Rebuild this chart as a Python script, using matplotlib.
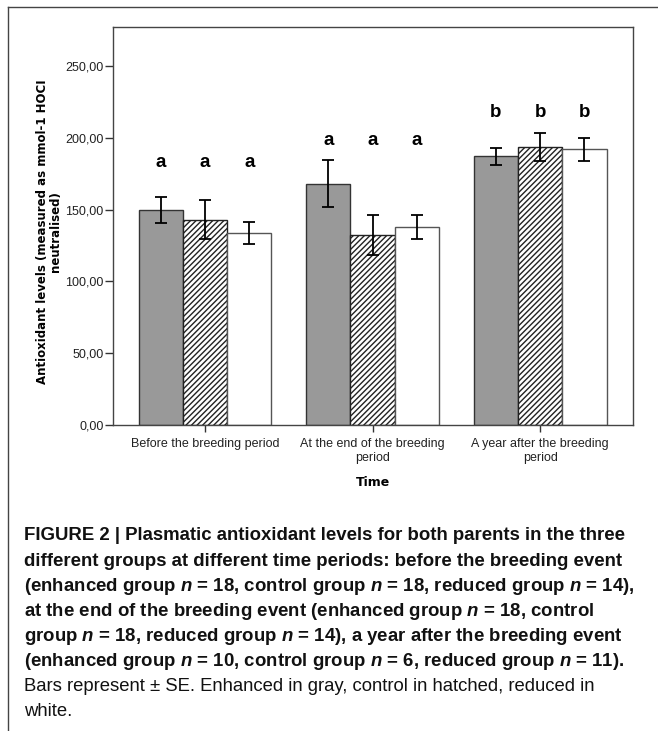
import matplotlib
matplotlib.use("Agg")
import matplotlib.pyplot as plt
import numpy as np
from matplotlib.lines import Line2D

# data
periods = ['Before the breeding period', 'At the end of the breeding\nperiod',
           'A year after the breeding\nperiod']
enhanced = [149.8, 168.0, 187.2]
enhanced_se = [8.8, 16.4, 5.8]
control = [143.1, 132.2, 193.4]
control_se = [13.4, 14.0, 9.8]
reduced = [133.8, 138.0, 192.0]
reduced_se = [7.6, 8.2, 8.2]
letters = ['a', 'a', 'b']
letter_y = [182.6, 198.0, 217.9]
yticks = [0, 50, 100, 150, 200, 250]

plt.rcParams['mathtext.fontset'] = 'custom'
plt.rcParams['mathtext.it'] = 'Liberation Sans:italic:bold'
plt.rcParams['mathtext.rm'] = 'Liberation Sans:bold'
plt.rcParams['hatch.linewidth'] = 1.0

fig = plt.figure(figsize=(6.58, 7.31), dpi=100)
ax = fig.add_axes([0.1713, 0.4186, 0.7907, 0.5449])

x = np.arange(len(periods))
w = 0.264
err = dict(ecolor='black', elinewidth=1.3, capsize=4, capthick=1.3)
ax.bar(x - w, enhanced, w, yerr=enhanced_se, color='#999999', edgecolor='#333333',
       linewidth=1, error_kw=err, zorder=2)
ax.bar(x, control, w, yerr=control_se, color='white', edgecolor='#222222', hatch='//////',
       linewidth=1, error_kw=err, zorder=2)
ax.bar(x + w, reduced, w, yerr=reduced_se, color='white', edgecolor='#555555',
       linewidth=1, error_kw=err, zorder=2)

for i, lab in enumerate(letters):
    for off in (-w, 0, w):
        ax.text(x[i] + off, letter_y[i], lab, ha='center', va='center',
                fontsize=13.5, fontweight='bold', family='Liberation Sans')

ax.set_xlim(-0.551, 2.554)
ax.set_ylim(0, 277.4)
ax.set_yticks(yticks)
ax.set_yticklabels(['%d,00' % v for v in yticks], family='Liberation Sans', fontsize=9,
                   color='#222222')
ax.set_xticks(x)
ax.set_xticklabels(periods, family='Liberation Sans', fontsize=9, color='#222222',
                   linespacing=1.15)
ax.tick_params(axis='y', length=6, width=1, pad=0.5, color='#333333')
ax.tick_params(axis='x', length=5, width=1, pad=4.5, color='#333333')
for s in ax.spines.values():
    s.set_color('#444444')
    s.set_linewidth(1)

ax.set_ylabel('Antioxidant levels (measured as mmol-1 HOCI\nneutralised)', fontsize=8.5,
              fontweight='bold', family='DejaVu Sans', linespacing=1.0)
ax.yaxis.set_label_coords(-0.098, 0.486)
ax.set_xlabel('Time', fontsize=9, fontweight='bold', family='DejaVu Sans')
ax.xaxis.set_label_coords(0.5, -0.128)

# outer frame of the figure panel
fig.add_artist(Line2D([8 / 658, 8 / 658], [0, 1 - 7 / 731], color='#444444', lw=1))
fig.add_artist(Line2D([8 / 658, 1], [1 - 7 / 731, 1 - 7 / 731], color='#444444', lw=1))

caption_bold = [
    'FIGURE 2 | Plasmatic antioxidant levels for both parents in the three',
    'different groups at different time periods: before the breeding event',
    '(enhanced group $n$ = 18, control group $n$ = 18, reduced group $n$ = 14),',
    'at the end of the breeding event (enhanced group $n$ = 18, control',
    'group $n$ = 18, reduced group $n$ = 14), a year after the breeding event',
    '(enhanced group $n$ = 10, control group $n$ = 6, reduced group $n$ = 11).',
]
caption_plain = [
    'Bars represent \u00b1 SE. Enhanced in gray, control in hatched, reduced in',
    'white.',
]

# the original caption uses a condensed face; size the text so line widths match
renderer = fig.canvas.get_renderer()
def fit_size(line, weight, target_px):
    t = fig.text(0, 0, line, fontsize=14, fontweight=weight, family='Liberation Sans')
    wpx = t.get_window_extent(renderer).width
    t.remove()
    return 14 * target_px / wpx

size_bold = fit_size(caption_bold[0], 'bold', 603)
size_plain = fit_size(caption_plain[0], 'normal', 575)

y0 = 536
for i, line in enumerate(caption_bold + caption_plain):
    bold = i < len(caption_bold)
    fig.text(24 / 658, 1 - (y0 + 25.1 * i) / 731, line, ha='left', va='center',
             fontsize=size_bold if bold else size_plain,
             fontweight='bold' if bold else 'normal',
             family='Liberation Sans', color='#111111')

fig.savefig('out.png', dpi=100)
